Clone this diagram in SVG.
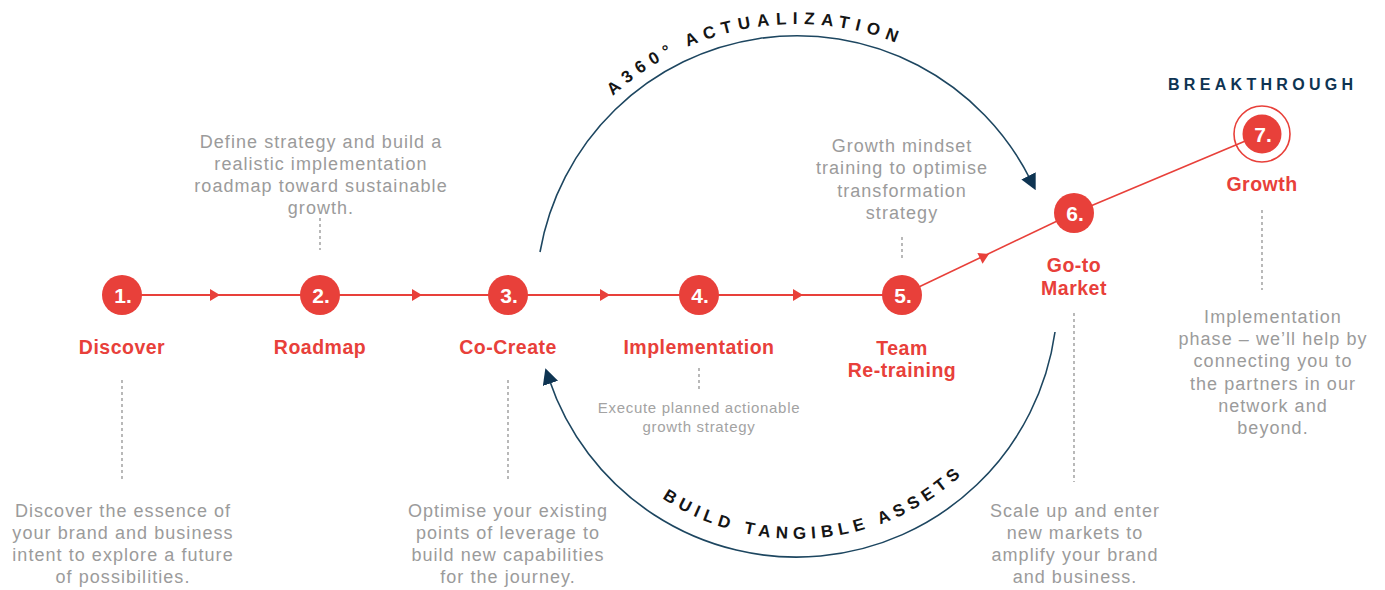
<svg xmlns="http://www.w3.org/2000/svg" xmlns:xlink="http://www.w3.org/1999/xlink" width="1385" height="590" viewBox="0 0 1385 590">
<style>
.bg{fill:#ffffff}
.redline{stroke:#e8403a;stroke-width:2;fill:none}
.diag{stroke:#e8403a;stroke-width:1.6;fill:none}
.tri{fill:#e8403a}
.arc{stroke:#1d4660;stroke-width:1.6;fill:none}
.dash{stroke:#8a8a8a;stroke-width:1.2;stroke-dasharray:3 3;fill:none}
.dot{fill:#e8403a}
.ring{fill:none;stroke:#e8403a;stroke-width:1.6}
.num{font-family:"Liberation Sans",Arial,sans-serif;font-weight:700;font-size:21px;fill:#ffffff;text-anchor:middle}
.lbl{font-family:"Liberation Sans",Arial,sans-serif;font-weight:700;font-size:19.5px;fill:#e8403a;text-anchor:middle;letter-spacing:0.5px}
.desc{font-family:"Liberation Sans",Arial,sans-serif;font-size:18px;fill:#9b9b9b;text-anchor:middle;letter-spacing:1.05px}
.small{font-family:"Liberation Sans",Arial,sans-serif;font-size:15px;fill:#a3a3a3;text-anchor:middle;letter-spacing:0.7px}
.arctxt{font-family:"Liberation Sans",Arial,sans-serif;font-weight:700;font-size:17px;fill:#151515;text-anchor:middle}
.brk{font-family:"Liberation Sans",Arial,sans-serif;font-weight:700;font-size:16px;fill:#0e3452;letter-spacing:4.3px}
</style>
<defs>
<path id="tri" d="M-10,-6 L0,0 L-10,6 Z"/>
<marker id="navyArrow" markerUnits="userSpaceOnUse" markerWidth="16" markerHeight="16" viewBox="0 0 14 14" refX="4" refY="7" orient="auto">
<path d="M0,0 L14,7 L0,14 Z" fill="#0e3452"/>
</marker>
<path id="topTextPath" d="M526,295 A271,271 0 0 1 1068,295"/>
<path id="botTextPath" d="M553,295 A244,244 0 0 0 1041,295"/>
</defs>
<rect class="bg" x="0" y="0" width="1385" height="590"/>

<g id="connectors">
<line class="redline" x1="122" y1="295" x2="902" y2="295"/>
<use href="#tri" class="tri" transform="translate(220,295)"/>
<use href="#tri" class="tri" transform="translate(422,295)"/>
<use href="#tri" class="tri" transform="translate(610,295)"/>
<use href="#tri" class="tri" transform="translate(803,295)"/>
<line class="diag" x1="902" y1="295" x2="1074" y2="213"/>
<use href="#tri" class="tri" transform="translate(989,254) rotate(-25.5)"/>
<line class="diag" x1="1074" y1="213" x2="1262" y2="134"/>
<path class="arc" d="M540,252 A261,261 0 0 1 1030.6,180" marker-end="url(#navyArrow)"/>
<path class="arc" d="M1055,332 A261,261 0 0 1 549,379" marker-end="url(#navyArrow)"/>
<line class="dash" x1="122" y1="380" x2="122" y2="482"/>
<line class="dash" x1="320" y1="218" x2="320" y2="250"/>
<line class="dash" x1="508" y1="380" x2="508" y2="482"/>
<line class="dash" x1="699" y1="368" x2="699" y2="391"/>
<line class="dash" x1="902" y1="237" x2="902" y2="258"/>
<line class="dash" x1="1074" y1="313" x2="1074" y2="482"/>
<line class="dash" x1="1262" y1="210" x2="1262" y2="290"/>
</g>

<g id="arc-labels">
<text class="arctxt" letter-spacing="6.4"><textPath href="#topTextPath" startOffset="378">A360° ACTUALIZATION</textPath></text>
<text class="arctxt" letter-spacing="5.4"><textPath href="#botTextPath" startOffset="404">BUILD TANGIBLE ASSETS</textPath></text>
</g>

<g id="node1">
<circle class="dot" cx="122" cy="295" r="20"/>
<text class="num" x="123" y="302.5">1.</text>
<text class="lbl" x="122" y="354">Discover</text>
<text class="desc" x="123" y="517">Discover the essence of</text>
<text class="desc" x="123" y="539">your brand and business</text>
<text class="desc" x="123" y="561">intent to explore a future</text>
<text class="desc" x="123" y="583">of possibilities.</text>
</g>

<g id="node2">
<circle class="dot" cx="320" cy="295" r="20"/>
<text class="num" x="321" y="302.5">2.</text>
<text class="lbl" x="320" y="354">Roadmap</text>
<text class="desc" x="321" y="148">Define strategy and build a</text>
<text class="desc" x="321" y="170">realistic implementation</text>
<text class="desc" x="321" y="192">roadmap toward sustainable</text>
<text class="desc" x="321" y="214">growth.</text>
</g>

<g id="node3">
<circle class="dot" cx="508" cy="295" r="20"/>
<text class="num" x="509" y="302.5">3.</text>
<text class="lbl" x="508" y="354">Co-Create</text>
<text class="desc" x="508" y="517">Optimise your existing</text>
<text class="desc" x="508" y="539">points of leverage to</text>
<text class="desc" x="508" y="561">build new capabilities</text>
<text class="desc" x="508" y="583">for the journey.</text>
</g>

<g id="node4">
<circle class="dot" cx="699" cy="295" r="20"/>
<text class="num" x="700" y="302.5">4.</text>
<text class="lbl" x="699" y="354">Implementation</text>
<text class="small" x="699" y="413">Execute planned actionable</text>
<text class="small" x="699" y="432">growth strategy</text>
</g>

<g id="node5">
<circle class="dot" cx="902" cy="295" r="20"/>
<text class="num" x="903" y="302.5">5.</text>
<text class="lbl" x="902" y="355">Team</text>
<text class="lbl" x="902" y="377">Re-training</text>
<text class="desc" x="902" y="152">Growth mindset</text>
<text class="desc" x="902" y="174">training to optimise</text>
<text class="desc" x="902" y="197">transformation</text>
<text class="desc" x="902" y="219">strategy</text>
</g>

<g id="node6">
<circle class="dot" cx="1074" cy="213" r="20"/>
<text class="num" x="1075" y="220.5">6.</text>
<text class="lbl" x="1074" y="272">Go-to</text>
<text class="lbl" x="1074" y="295">Market</text>
<text class="desc" x="1075" y="517">Scale up and enter</text>
<text class="desc" x="1075" y="539">new markets to</text>
<text class="desc" x="1075" y="561">amplify your brand</text>
<text class="desc" x="1075" y="583">and business.</text>
</g>

<g id="node7">
<circle class="ring" cx="1262" cy="134" r="28"/>
<circle class="dot" cx="1262" cy="134" r="19.5"/>
<text class="num" x="1263" y="141.5">7.</text>
<text class="brk" x="1168" y="90">BREAKTHROUGH</text>
<text class="lbl" x="1262" y="191">Growth</text>
<text class="desc" x="1273" y="323">Implementation</text>
<text class="desc" x="1273" y="345">phase – we’ll help by</text>
<text class="desc" x="1273" y="367">connecting you to</text>
<text class="desc" x="1273" y="390">the partners in our</text>
<text class="desc" x="1273" y="412">network and</text>
<text class="desc" x="1273" y="434">beyond.</text>
</g>
</svg>
